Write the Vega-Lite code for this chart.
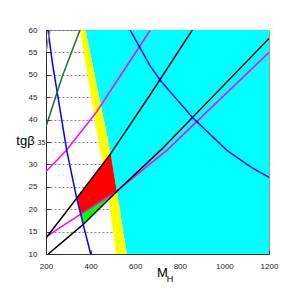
{
  "$schema": "https://vega.github.io/schema/vega-lite/v6.json",
  "width": 223,
  "height": 224,
  "autosize": "none",
  "padding": {"left": 46, "top": 30, "right": 31, "bottom": 46},
  "background": "white",
  "config": {"view": {"stroke": "#999", "strokeWidth": 1}, "font": "Liberation Sans"},
  "datasets": {
    "band": [
      {"t": 10, "yl": 513.9, "yr": 561.9},
      {"t": 22.05, "yl": 482.5, "yr": 524.2},
      {"t": 35.45, "yl": 434.5, "yr": 478},
      {"t": 60, "yl": 352.5, "yr": 377}
    ],
    "red": [
      {"t": 18.9, "xl": 355.6, "xr": 355.6},
      {"t": 22.43, "xl": 337.7, "xr": 466.2},
      {"t": 24.05, "xl": 362.4, "xr": 517},
      {"t": 32.4, "xl": 490, "xr": 490}
    ],
    "green": [
      {"t": 16.55, "xl": 367, "xr": 367},
      {"t": 18.9, "xl": 355.6, "xr": 414.3},
      {"t": 24.0, "xl": 517, "xr": 517}
    ],
    "lines": [
      {"id": "magU", "M": 200, "t": 28.4},
      {"id": "magU", "M": 292.8, "t": 33.2},
      {"id": "magU", "M": 427.4, "t": 41.76},
      {"id": "magU", "M": 668, "t": 60},
      {"id": "magL", "M": 200, "t": 13.8},
      {"id": "magL", "M": 355.6, "t": 18.9},
      {"id": "magL", "M": 517, "t": 24.05},
      {"id": "magL", "M": 742.6, "t": 33.2},
      {"id": "magL", "M": 1200, "t": 55.0},
      {"id": "A", "M": 200, "t": 13.57},
      {"id": "A", "M": 337.7, "t": 22.43},
      {"id": "A", "M": 490, "t": 32.4},
      {"id": "A", "M": 666.3, "t": 45.5},
      {"id": "A", "M": 856, "t": 60},
      {"id": "B", "M": 210, "t": 10},
      {"id": "B", "M": 367, "t": 16.6},
      {"id": "B", "M": 517, "t": 23.95},
      {"id": "B", "M": 719, "t": 33.4},
      {"id": "B", "M": 1200, "t": 58.1},
      {"id": "blue1", "M": 209, "t": 60},
      {"id": "blue1", "M": 230, "t": 52.2},
      {"id": "blue1", "M": 292.8, "t": 33.2},
      {"id": "blue1", "M": 337.7, "t": 22.43},
      {"id": "blue1", "M": 355.6, "t": 18.9},
      {"id": "blue1", "M": 367, "t": 16.55},
      {"id": "blue1", "M": 400.4, "t": 10},
      {"id": "blue2", "M": 576.7, "t": 60},
      {"id": "blue2", "M": 666.4, "t": 52.03},
      {"id": "blue2", "M": 711.2, "t": 48.84},
      {"id": "blue2", "M": 859.2, "t": 40.36},
      {"id": "blue2", "M": 1010.3, "t": 33.2},
      {"id": "blue2", "M": 1115.7, "t": 29.49},
      {"id": "blue2", "M": 1200, "t": 27.12},
      {"id": "dgreen", "M": 200, "t": 38.4},
      {"id": "dgreen", "M": 272, "t": 49.5},
      {"id": "dgreen", "M": 352.5, "t": 60},
      {"id": "gray", "M": 200, "t": 55.1},
      {"id": "gray", "M": 218, "t": 60}
    ]
  },
  "layer": [
    {
      "data": {"name": "band"},
      "mark": {"type": "area", "orient": "horizontal", "color": "#00ffff", "opacity": 1},
      "encoding": {
        "y": {
          "field": "t", "type": "quantitative",
          "scale": {"domain": [10, 60], "nice": false, "zero": false},
          "axis": {
            "values": [10, 15, 20, 25, 30, 35, 40, 45, 50, 55, 60],
            "format": "d", "labelFlush": false,
            "grid": true, "gridDash": [2, 2], "gridColor": "#666", "gridWidth": 0.8,
            "tickSize": -4, "tickColor": "#333", "labelPadding": 13, "labelOverlap": false,
            "labelFontSize": {"condition": {"test": "datum.value === 35", "value": 7}, "value": 8},
            "labelAlign": {"condition": {"test": "datum.value === 35", "value": "left"}, "value": "right"},
            "labelColor": "#222", "labelFont": "Liberation Sans",
            "domainColor": "#333",
            "title": "tgβ", "titleAngle": 0, "titleFontSize": 13, "titleFontWeight": "normal",
            "titleFont": "Liberation Sans", "titleColor": "#000",
            "titleX": -21, "titleY": 110, "titleAlign": "center", "titleBaseline": "middle"
          }
        },
        "x": {
          "field": "yr", "type": "quantitative",
          "scale": {"domain": [200, 1200], "nice": false, "zero": false},
          "axis": {
            "values": [200, 400, 600, 800, 1000, 1200],
            "format": "d", "labelFlush": false,
            "grid": false, "tickSize": -4, "tickColor": "#333", "labelPadding": 12,
            "labelOverlap": false, "labelFontSize": 8, "labelColor": "#222", "labelFont": "Liberation Sans",
            "domainColor": "#333",
            "title": "M", "titleFontSize": 13, "titleFontWeight": "normal", "titleFont": "Liberation Sans",
            "titleColor": "#000",
            "titleX": 116, "titleY": 18, "titleAlign": "center", "titleBaseline": "middle"
          }
        },
        "x2": {"datum": 1200}
      }
    },
    {
      "data": {"name": "band"},
      "mark": {"type": "area", "orient": "horizontal", "color": "#ffff00", "opacity": 1},
      "encoding": {
        "y": {"field": "t", "type": "quantitative", "axis": null},
        "x": {"field": "yl", "type": "quantitative", "axis": null},
        "x2": {"field": "yr"}
      }
    },
    {
      "data": {"name": "red"},
      "mark": {"type": "area", "orient": "horizontal", "color": "#ff0000", "opacity": 1},
      "encoding": {
        "y": {"field": "t", "type": "quantitative", "axis": null},
        "x": {"field": "xl", "type": "quantitative", "axis": null},
        "x2": {"field": "xr"}
      }
    },
    {
      "data": {"name": "green"},
      "mark": {"type": "area", "orient": "horizontal", "color": "#00ff00", "opacity": 1},
      "encoding": {
        "y": {"field": "t", "type": "quantitative", "axis": null},
        "x": {"field": "xl", "type": "quantitative", "axis": null},
        "x2": {"field": "xr"}
      }
    },
    {
      "data": {"name": "lines"},
      "mark": {"type": "line", "clip": true},
      "encoding": {
        "y": {"field": "t", "type": "quantitative", "axis": null},
        "x": {
          "field": "M", "type": "quantitative",
          "axis": {
            "orient": "bottom", "labels": false, "ticks": false, "domain": false, "grid": false,
            "title": "H", "titleFontSize": 9, "titleFontWeight": "normal", "titleFont": "Liberation Sans",
            "titleColor": "#000",
            "titleX": 123.5, "titleY": 24, "titleAlign": "center", "titleBaseline": "middle"
          }
        },
        "detail": {"field": "id"},
        "color": {
          "field": "id", "type": "nominal", "legend": null,
          "scale": {
            "domain": ["magU", "magL", "A", "B", "blue1", "blue2", "dgreen", "gray"],
            "range": ["#ff00ff", "#ff00ff", "#000000", "#000000", "#0000ff", "#0000ff", "#1f6b3a", "#888888"]
          }
        },
        "strokeWidth": {
          "field": "id", "type": "ordinal", "legend": null,
          "scale": {
            "domain": ["magU", "magL", "A", "B", "blue1", "blue2", "dgreen", "gray"],
            "range": [1.5, 1.5, 1.3, 2.5, 2, 2, 2, 2]
          }
        }
      }
    }
  ],
  "resolve": {"axis": {"x": "independent", "y": "independent"}}
}
